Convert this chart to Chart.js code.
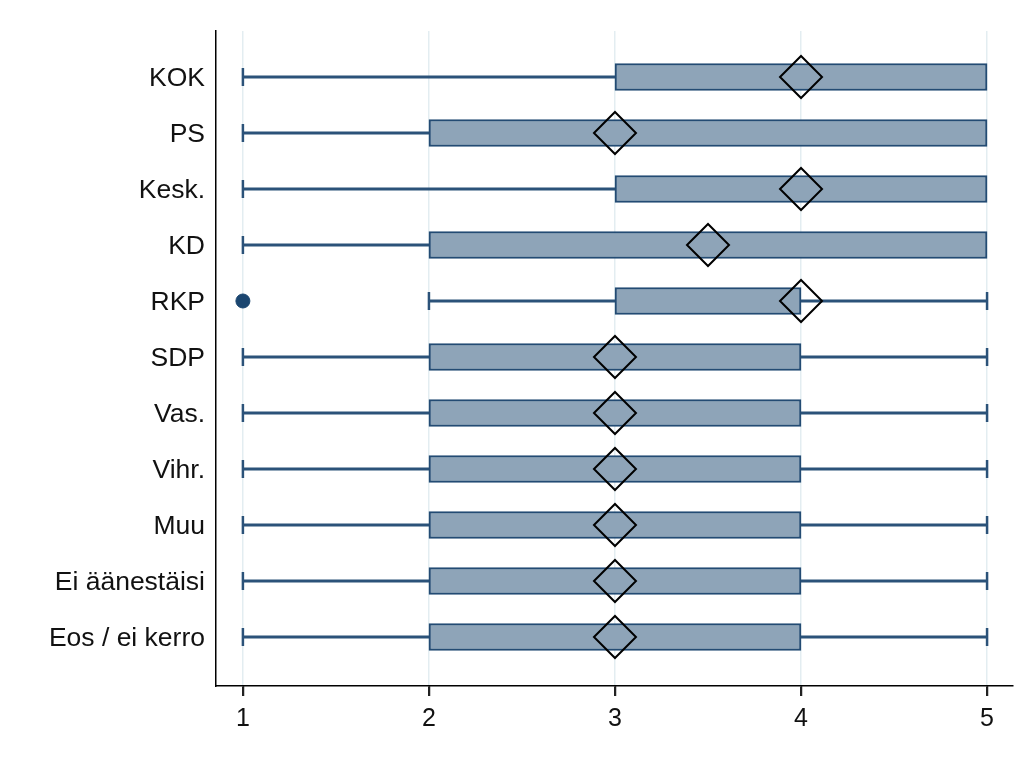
<!DOCTYPE html>
<html>
<head>
<meta charset="utf-8">
<script src="https://cdn.jsdelivr.net/npm/chart.js@4"></script>
<style>
  html, body { margin: 0; padding: 0; background: #fff; }
  #wrap { width: 1036px; height: 758px; }
</style>
</head>
<body>
<div id="wrap"><canvas id="chart" width="1036" height="758"></canvas></div>
<script>
const LABELS = ['KOK', 'PS', 'Kesk.', 'KD', 'RKP', 'SDP', 'Vas.', 'Vihr.', 'Muu', 'Ei äänestäisi', 'Eos / ei kerro'];
const MINS = [1, 1, 1, 1, 2, 1, 1, 1, 1, 1, 1];
const Q1S = [3, 2, 3, 2, 3, 2, 2, 2, 2, 2, 2];
const Q3S = [5, 5, 5, 5, 4, 4, 4, 4, 4, 4, 4];
const MAXS = [5, 5, 5, 5, 5, 5, 5, 5, 5, 5, 5];
const MARKS = [4, 3, 4, 3.5, 4, 3, 3, 3, 3, 3, 3];
const OUTLIERS = [{ row: 4, value: 1 }];
const X_TICKS = [1, 2, 3, 4, 5];

const LINE = '#2b5279';
const BOX_EDGE = '#234b73';
const FILL = '#8ea4b8';
const FONT = "'Liberation Sans', Arial, sans-serif";

const lowWhisk = [];
const highWhisk = [];
const caps = [];
LABELS.forEach((_, i) => {
  if (MINS[i] < Q1S[i]) {
    lowWhisk.push({ x: [MINS[i], Q1S[i]], y: i });
    caps.push({ x: MINS[i], y: i });
  }
  if (MAXS[i] > Q3S[i]) {
    highWhisk.push({ x: [Q3S[i], MAXS[i]], y: i });
    caps.push({ x: MAXS[i], y: i });
  }
});
const boxes = LABELS.map((_, i) => ({ x: [Q1S[i], Q3S[i]], y: i }));
const marks = LABELS.map((_, i) => ({ x: MARKS[i], y: i }));
const dots = OUTLIERS.map(o => ({ x: o.value, y: o.row }));

const whiskerSet = data => ({
  type: 'bar', indexAxis: 'y', grouped: false, data,
  backgroundColor: LINE, borderWidth: 0, barThickness: 2.5, order: 5,
});

// x tick marks below the axis line, placed through the x scale
const tickMarks = {
  id: 'tickMarks',
  afterDraw(chart) {
    const { ctx, scales: { x } } = chart;
    ctx.save();
    ctx.strokeStyle = '#222';
    ctx.lineWidth = 1.5;
    X_TICKS.forEach((v) => {
      const px = Math.round(x.getPixelForValue(v)) + 0.5;
      ctx.beginPath();
      ctx.moveTo(px, x.top);
      ctx.lineTo(px, x.top + 10);
      ctx.stroke();
    });
    ctx.restore();
  },
};

new Chart(document.getElementById('chart'), {
  type: 'bar',
  data: {
    datasets: [
      whiskerSet(lowWhisk),
      whiskerSet(highWhisk),
      {
        type: 'bar', indexAxis: 'y', grouped: false, data: boxes,
        backgroundColor: FILL, borderColor: BOX_EDGE, borderWidth: 2,
        borderSkipped: false, barThickness: 27, order: 4,
      },
      {
        type: 'scatter', data: caps, pointStyle: 'line', rotation: 90,
        radius: 9, borderColor: LINE, borderWidth: 2.5, order: 3,
      },
      {
        type: 'scatter', data: dots, pointStyle: 'circle', radius: 7,
        backgroundColor: '#1b4670', borderColor: '#1b4670', borderWidth: 1, order: 2,
      },
      {
        type: 'scatter', data: marks, pointStyle: 'rectRot', radius: 21,
        backgroundColor: 'rgba(0,0,0,0)', borderColor: '#000', borderWidth: 2, order: 1,
      },
    ],
  },
  plugins: [tickMarks],
  options: {
    responsive: false,
    animation: false,
    layout: { padding: { top: 31, right: 20, bottom: 0, left: 0 } },
    plugins: { legend: { display: false }, tooltip: { enabled: false } },
    scales: {
      x: {
        type: 'linear', position: 'bottom', offset: false,
        min: 0.8554, max: 5.1394,
        afterBuildTicks: axis => { axis.ticks = X_TICKS.map(v => ({ value: v })); },
        afterFit: (axis) => {
          axis.height = 72;
          axis.paddingRight = 0;
          axis.paddingLeft = 0;
        },
        grid: {
          offset: false, color: '#e3edf1', lineWidth: 1.5,
          tickColor: '#222', tickWidth: 1.5, tickLength: 10,
        },
        border: { color: '#000', width: 1.5 },
        ticks: { color: '#111', font: { family: FONT, size: 25 }, padding: 8 },
      },
      y: {
        type: 'linear', position: 'left', reverse: true, offset: false,
        min: -0.8214, max: 10.875,
        afterBuildTicks: axis => { axis.ticks = LABELS.map((_, i) => ({ value: i })); },
        afterFit: (axis) => { axis.width = 216; },
        grid: { display: false, drawTicks: false, offset: false },
        border: { color: '#000', width: 1.5 },
        ticks: {
          color: '#111', font: { family: FONT, size: 26.5 }, padding: 11, labelOffset: 2,
          callback: v => LABELS[v] ?? '',
        },
      },
    },
  },
});
</script>
</body>
</html>
